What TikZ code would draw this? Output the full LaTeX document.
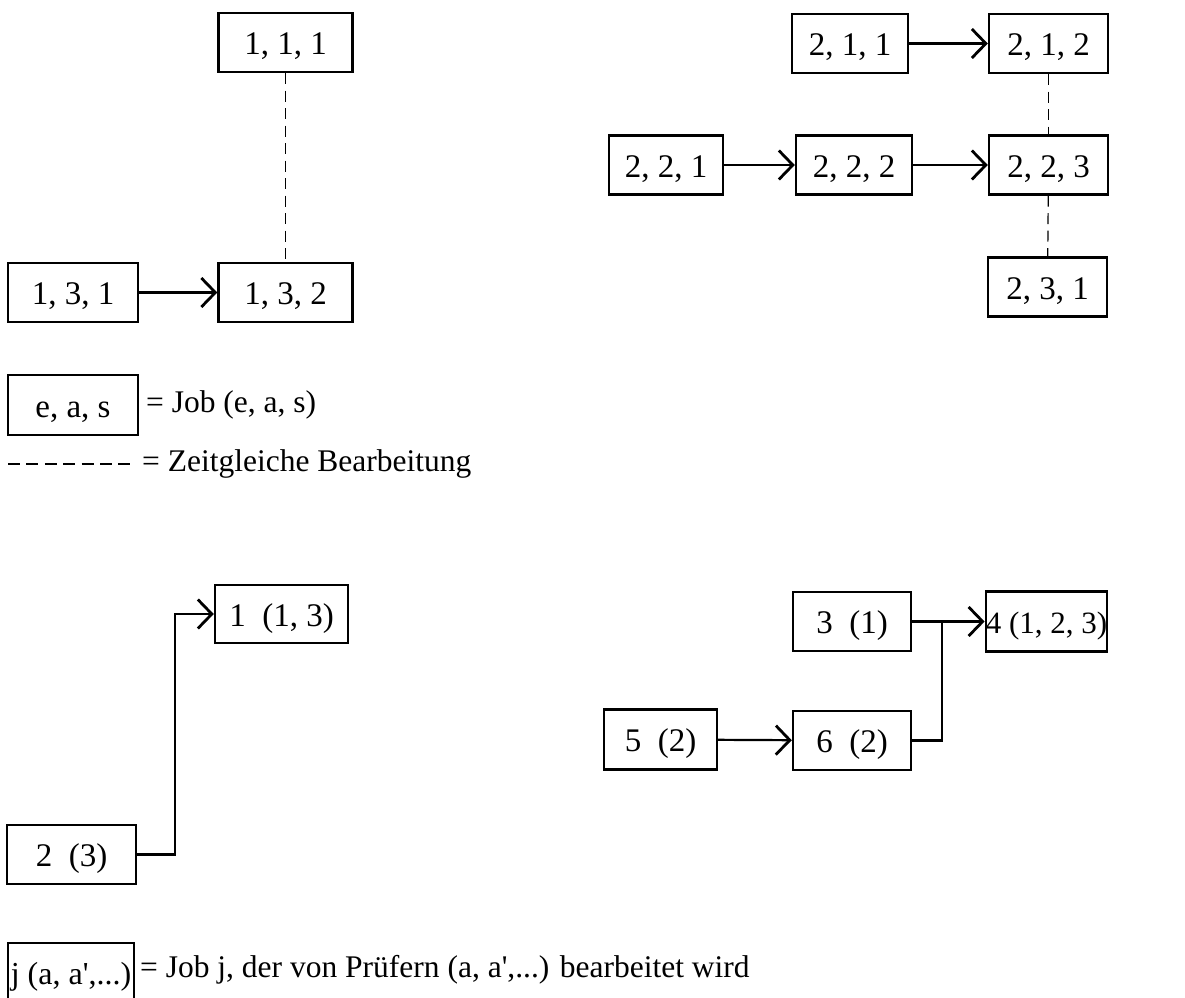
\documentclass[tikz,border=0pt]{standalone}
\usepackage{fontspec}
\setmainfont{Liberation Serif}
\usepackage{tikz}
\usetikzlibrary{calc}
\usetikzlibrary{arrows.meta}

\begin{document}
\begin{tikzpicture}[x=1pt,y=-1pt,
  job/.style={draw,line width=2.4pt,inner sep=0pt,minimum height=59pt,
    text height=24pt,text depth=0pt,font=\fontsize{33}{38}\selectfont},
  flow/.style={line width=2.2pt,-{Straight Barb[length=14pt,width=29pt,line width=2.8pt]}},
  link/.style={line width=2.2pt},
  same/.style={line width=1.2pt,dash pattern=on 11pt off 6.5pt},
  legend/.style={anchor=west,inner sep=0pt,font=\fontsize{31.5}{36}\selectfont}]
\useasboundingbox (0,0) rectangle (1185,997);

% Upper left group
\node[job,minimum width=134pt] (j111) at (285.5,42.5) {1, 1, 1};
\node[job,minimum width=130pt] (j131) at (73,292.5) {1, 3, 1};
\node[job,minimum width=134pt] (j132) at (285.5,292.5) {1, 3, 2};
\draw[flow] (j131) -- (j132);
\draw[same] (j111) -- (j132);

% Upper right group
\node[job,minimum width=116pt] (j211) at (850,43.5) {2, 1, 1};
\node[job,minimum width=119pt] (j212) at (1048.5,43.5) {2, 1, 2};
\node[job,minimum width=114pt] (j221) at (666,165) {2, 2, 1};
\node[job,minimum width=116pt] (j222) at (854,165) {2, 2, 2};
\node[job,minimum width=119pt] (j223) at (1048.5,165) {2, 2, 3};
\node[job,minimum width=119pt] (j231) at (1047.5,287) {2, 3, 1};
\draw[flow] (j211) -- (j212);
\draw[flow] (j221) -- (j222);
\draw[flow] (j222) -- (j223);
\draw[same] (j212) -- (j223);
\draw[same] (j223) -- (j231);

% Legend for the upper part
\node[job,minimum width=130pt,minimum height=60pt] (keyjob) at (73,405) {e, a, s};
\node[legend] (keyjobtxt) at (146,405) {= Job (e, a, s)};
\coordinate (keydash) at (8,464);
\node[legend] (keysametxt) at (142,464) {= Zeitgleiche Bearbeitung};
\draw[same,dash pattern=on 12pt off 6.4pt] (keydash) -- ($(keysametxt.west)+(-6,0)$);

% Lower left group
\node[job,minimum width=133pt,minimum height=58pt] (p1) at (281.5,614) {1\enskip(1, 3)};
\node[job,minimum width=129pt] (p2) at (71.5,854.5) {2\enskip(3)};
\draw[flow] (p2.east) -- ++(38,0) |- (p1.west);

% Lower right group
\node[job,minimum width=118pt] (p3) at (852,621.5) {3\enskip(1)};
\node[job,minimum width=119pt,minimum height=60pt,font=\fontsize{31}{36}\selectfont] (p4) at (1046.5,621.5) {4 (1, 2, 3)};
\node[job,minimum width=113pt,minimum height=60pt] (p5) at (660.5,739.5) {5\enskip(2)};
\node[job,minimum width=118pt] (p6) at (852,740.5) {6\enskip(2)};
\coordinate (merge) at (942,621.5);
\draw[flow] (p3) -- (p4);
\draw[flow] (p5) -- (p6);
\draw[link] (p6.east) -| (merge);

% Legend for the lower part
\node[job,minimum width=126pt,minimum height=58pt,font=\fontsize{32}{36}\selectfont] (keyp) at (71,972) {j (a, a\textquotesingle,...)};
\node[legend] (keyptxt) at (140,970) {= Job j, der von Prüfern (a, a\textquotesingle,...) bearbeitet wird};
\end{tikzpicture}
\end{document}
